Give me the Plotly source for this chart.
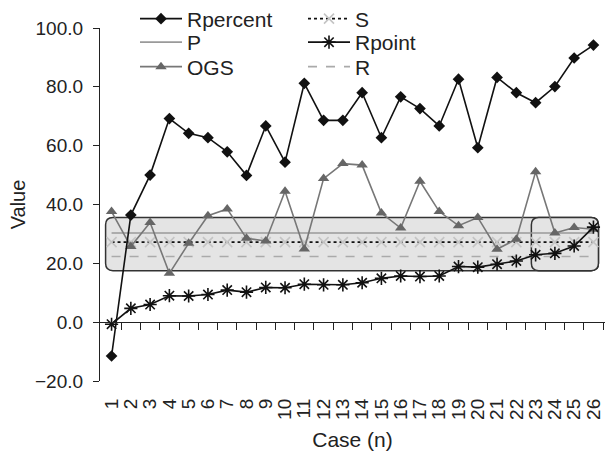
import plotly.graph_objects as go

cases = list(range(1, 27))
case_labels = [str(c) for c in cases]

rpercent = [-11.5, 36.4, 50.0, 69.2, 64.2, 62.7, 57.9, 49.9, 66.7, 54.4, 81.2, 68.6, 68.6,
            78.0, 62.7, 76.6, 72.6, 66.7, 82.6, 59.3, 83.2, 78.0, 74.6, 80.1, 89.8, 94.2]
ogs = [37.6, 25.7, 33.9, 16.6, 26.8, 36.2, 38.5, 28.5, 27.6, 44.5, 24.9, 48.8, 53.9,
       53.4, 37.1, 32.0, 47.9, 37.6, 32.8, 35.6, 24.8, 28.2, 51.1, 30.3, 32.2, 31.6]
rpoint = [-0.7, 4.7, 6.0, 9.0, 8.9, 9.4, 10.9, 10.2, 11.8, 11.7, 12.9, 12.7, 12.7,
          13.4, 14.9, 15.7, 15.5, 15.7, 18.9, 18.7, 19.7, 20.8, 22.9, 23.4, 25.9, 32.3]
p_vals = [30.3] * 26
s_vals = [27.2] * 26
r_vals = [22.3] * 26

# highlighted ranges (data units)
box_main = dict(x0=0.69, x1=26.26, y0=17.5, y1=35.6)
box_tail = dict(x0=22.78, x1=26.26, y0=17.5, y1=35.6)

XR = [0.4, 26.6]
YR = [-20, 100]


def rounded_path(x0, x1, y0, y1, rx=0.38, ry=2.5):
    return (f"M{x0+rx},{y0} L{x1-rx},{y0} Q{x1},{y0} {x1},{y0+ry} "
            f"L{x1},{y1-ry} Q{x1},{y1} {x1-rx},{y1} L{x0+rx},{y1} "
            f"Q{x0},{y1} {x0},{y1-ry} L{x0},{y0+ry} Q{x0},{y0} {x0+rx},{y0} Z")


fig = go.Figure()

fig.add_trace(go.Scatter(x=cases, y=p_vals, mode="lines", name="P",
                         line=dict(color="#9a9a9a", width=1.6), legend="legend2"))
fig.add_trace(go.Scatter(x=cases, y=s_vals, mode="lines+markers", name="S",
                         line=dict(color="#111111", width=1.6, dash="dot"),
                         marker=dict(symbol="x-thin-open", size=10, color="#c4c4c4",
                                     line=dict(color="#c4c4c4", width=1.6)),
                         legend="legend4"))
fig.add_trace(go.Scatter(x=cases, y=r_vals, mode="lines", name="R",
                         line=dict(color="#aaaaaa", width=1.6, dash="dash"),
                         legend="legend6"))
fig.add_trace(go.Scatter(x=cases, y=ogs, mode="lines+markers", name="OGS",
                         line=dict(color="#777777", width=1.6),
                         marker=dict(symbol="triangle-up", size=10, color="#666666"),
                         legend="legend3"))
fig.add_trace(go.Scatter(x=cases, y=rpoint, mode="lines+markers", name="Rpoint",
                         line=dict(color="#111111", width=1.6),
                         marker=dict(symbol="asterisk-open", size=11, color="#111111",
                                     line=dict(color="#111111", width=1.6)),
                         legend="legend5"))
fig.add_trace(go.Scatter(x=cases, y=rpercent, mode="lines+markers", name="Rpercent",
                         line=dict(color="#111111", width=1.6),
                         marker=dict(symbol="diamond", size=9, color="#111111"),
                         legend="legend"))
# helper trace for the overlay axis at y = 0
fig.add_trace(go.Scatter(x=[None], y=[None], xaxis="x2", showlegend=False,
                         hoverinfo="skip"))

for b in (box_main, box_tail):
    fig.add_shape(type="path", path=rounded_path(**b), xref="x", yref="y",
                  fillcolor="#e4e4e4", line=dict(color="#333333", width=1.5),
                  layer="below")

L, W, T, H = 100, 505, 28, 353


def legpos(px, py):
    return (px - L) / W, (T + H - py) / H


rows = [19, 42.5, 67]
cols = [135, 303]
names = [["legend", "legend2", "legend3"], ["legend4", "legend5", "legend6"]]
legend_layout = {}
for ci, cx in enumerate(cols):
    for ri, ry in enumerate(rows):
        lx, ly = legpos(cx, ry)
        legend_layout[names[ci][ri]] = dict(
            x=lx, y=ly, xanchor="left", yanchor="middle",
            bgcolor="rgba(0,0,0,0)", borderwidth=0, itemwidth=42,
            font=dict(size=21, color="#222222", family="Liberation Sans, Arial"))

fig.update_layout(
    width=608, height=451,
    margin=dict(l=L, r=608 - L - W, t=T, b=451 - T - H, autoexpand=False),
    paper_bgcolor="white", plot_bgcolor="white",
    font=dict(family="Liberation Sans, Arial", size=19, color="#222222"),
    showlegend=True,
    xaxis=dict(range=XR, tickvals=cases, ticktext=case_labels, tickangle=-90,
               showline=False, ticks="", showgrid=False, zeroline=False,
               ticklabelstandoff=13, automargin=False,
               tickfont=dict(size=19),
               title=dict(text="Case (n)", font=dict(size=21), standoff=13)),
    xaxis2=dict(range=XR, overlaying="x", anchor="free",
                position=(0 - YR[0]) / (YR[1] - YR[0]),
                tickvals=[c + 0.5 for c in cases], showticklabels=False,
                ticks="outside", ticklen=7, tickcolor="#222222", tickwidth=1.2,
                showline=True, linecolor="#222222", linewidth=1.2,
                showgrid=False, zeroline=False),
    yaxis=dict(range=YR, dtick=20, tick0=0, tickformat=".1f",
               showline=True, linecolor="#222222", linewidth=1.2,
               ticks="outside", ticklen=6, tickcolor="#222222", tickwidth=1.2,
               showgrid=False, zeroline=False, ticklabelstandoff=6, automargin=False,
               tickfont=dict(size=19),
               title=dict(text="Value", font=dict(size=20), standoff=4)),
    **legend_layout,
)

fig.write_html("out.html", config={"displayModeBar": False},
               post_script="document.body.style.margin='0';")
